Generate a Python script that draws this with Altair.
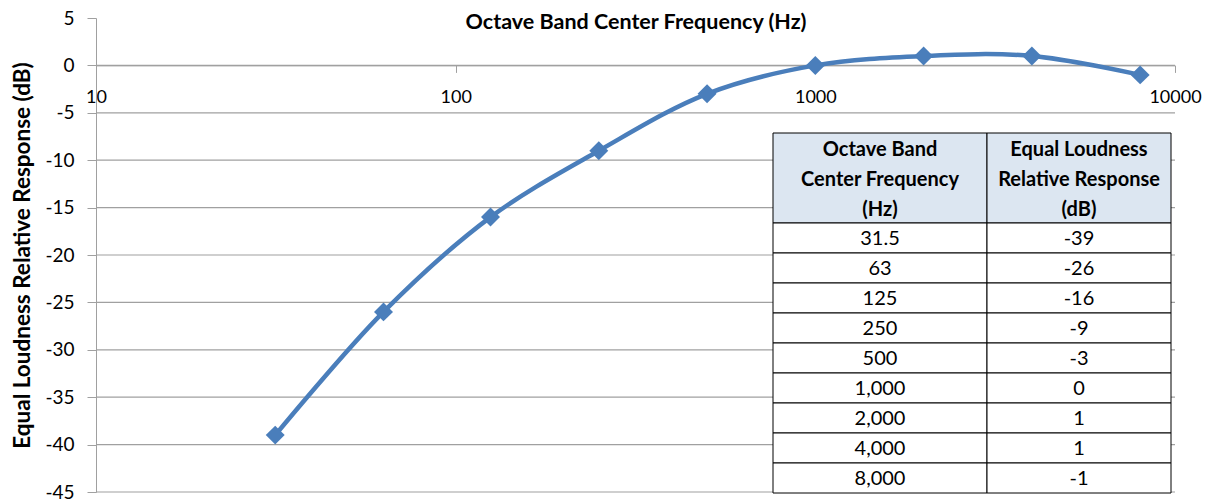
import altair as alt
import pandas as pd

# ---- data ----
freqs = [31.5, 63, 125, 250, 500, 1000, 2000, 4000, 8000]
response = [-39, -26, -16, -9, -3, 0, 1, 1, -1]
freq_labels = ["31.5", "63", "125", "250", "500", "1,000", "2,000", "4,000", "8,000"]
resp_labels = ["-39", "-26", "-16", "-9", "-3", "0", "1", "1", "-1"]
header_left = ["Octave Band", "Center Frequency", "(Hz)"]
header_right = ["Equal Loudness", "Relative Response", "(dB)"]
x_ticks = [10, 100, 1000, 10000]
y_ticks = [-45, -40, -35, -30, -25, -20, -15, -10, -5, 0, 5]
grid_values = [-45, -40, -35, -30, -25, -20, -15, -10, -5, 0]

# ---- layout / style ----
W, H = 1079, 474
BLUE = "#4A7EBB"
GRID = "#A0A0A0"
FONT = "Lato"
HEADER_FILL = "#DCE6F1"
COL_W = [214, 184]
TABLE_X = [677, 1075]
TABLE_Y = [115, 475]

df = pd.DataFrame({"freq": freqs, "resp": response})
grid_df = pd.DataFrame({"g": grid_values})

xs = alt.Scale(type="log", domain=[10, 10000], nice=False)
ys = alt.Scale(domain=[-45, 5], nice=False, zero=False)

x_axis = alt.Axis(
    values=x_ticks, format="d", title="Octave Band Center Frequency (Hz)",
    orient="bottom", offset=-(H - H * 5 / 50), grid=False,
    domainColor=GRID, tickColor=GRID, tickSize=7, labelPadding=16,
    labelFontSize=18, labelFont=FONT, labelColor="#000", labelFlush=False,
    titleFont=FONT, titleFontSize=21.5, titleFontWeight="bold", titleColor="#000",
    titleY=-43, titleBaseline="middle",
)
y_axis = alt.Axis(
    values=y_ticks, title="Equal Loudness Relative Response (dB)",
    grid=False, orient="left", labelExpr="'' + datum.value",
    domainColor=GRID, tickColor=GRID, tickSize=9, labelPadding=13,
    labelFontSize=19, labelFont=FONT, labelColor="#000",
    titleFont=FONT, titleFontSize=22.5, titleFontWeight="bold", titleColor="#000",
    titleX=-74, titleBaseline="middle",
)

grid = alt.Chart(grid_df).mark_rule(color=GRID, strokeWidth=1.2).encode(
    y=alt.Y("g:Q", scale=ys, axis=y_axis),
)
line = alt.Chart(df).mark_line(interpolate="catmull-rom", color=BLUE, strokeWidth=4.5).encode(
    x=alt.X("freq:Q", scale=xs, axis=x_axis),
    y=alt.Y("resp:Q", scale=ys, axis=None),
)
points = alt.Chart(df).mark_point(shape="diamond", filled=True, size=360, color=BLUE, opacity=1).encode(
    x=alt.X("freq:Q", scale=xs, axis=None),
    y=alt.Y("resp:Q", scale=ys, axis=None),
)

# ---- table ----
cells = []
edges = [0, COL_W[0], COL_W[0] + COL_W[1]]
for c in range(2):
    cells.append({"x0": edges[c], "x1": edges[c + 1], "y0": 0, "y1": 3, "fill": HEADER_FILL})
    for i in range(len(freqs)):
        cells.append({"x0": edges[c], "x1": edges[c + 1], "y0": 3 + i, "y1": 4 + i, "fill": "#FFFFFF"})
cells_df = pd.DataFrame(cells)

texts_h = []
for j in range(3):
    texts_h.append({"x": (edges[0] + edges[1]) / 2, "y": j + 0.5, "t": header_left[j]})
    texts_h.append({"x": (edges[1] + edges[2]) / 2, "y": j + 0.5, "t": header_right[j]})
texts_b = []
for i in range(len(freqs)):
    texts_b.append({"x": (edges[0] + edges[1]) / 2, "y": 3.5 + i, "t": freq_labels[i]})
    texts_b.append({"x": (edges[1] + edges[2]) / 2, "y": 3.5 + i, "t": resp_labels[i]})

txs = alt.Scale(domain=[0, edges[2]], range=TABLE_X)
tys = alt.Scale(domain=[0, 3 + len(freqs)], range=TABLE_Y)

rects = alt.Chart(cells_df).mark_rect(stroke="#000000", strokeWidth=1).encode(
    x=alt.X("x0:Q", scale=txs, axis=None), x2="x1:Q",
    y=alt.Y("y0:Q", scale=tys, axis=None), y2="y1:Q",
    fill=alt.Fill("fill:N", scale=None),
)
head_text = alt.Chart(pd.DataFrame(texts_h)).mark_text(
    font=FONT, fontSize=20, fontWeight="bold", color="#000", baseline="middle", dy=2
).encode(
    x=alt.X("x:Q", scale=txs, axis=None), y=alt.Y("y:Q", scale=tys, axis=None), text="t:N"
)
body_text = alt.Chart(pd.DataFrame(texts_b)).mark_text(
    font=FONT, fontSize=20, color="#000", baseline="middle", dy=1
).encode(
    x=alt.X("x:Q", scale=txs, axis=None), y=alt.Y("y:Q", scale=tys, axis=None), text="t:N"
)

chart = alt.layer(grid, line, points, rects, head_text, body_text).resolve_scale(
    x="independent", y="independent"
).properties(
    width=W, height=H,
    autosize=alt.AutoSizeParams(type="none"),
    padding={"left": 88, "top": 10, "right": 34, "bottom": 8},
    background="white",
).configure_view(stroke=None)

chart.save("out.html", embed_options={"renderer": "svg", "actions": False})
